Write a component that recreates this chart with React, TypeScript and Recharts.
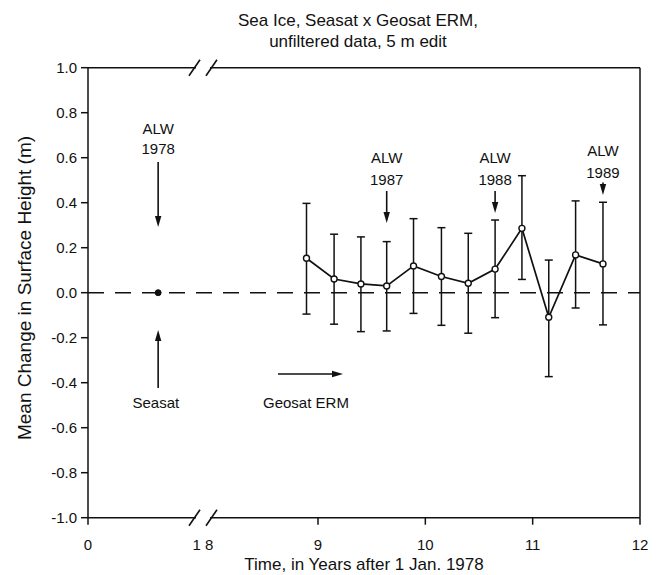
import React from 'react';
import {
  ComposedChart,
  Line,
  XAxis,
  YAxis,
  ErrorBar,
  ReferenceLine,
  ReferenceDot,
} from 'recharts';

// Geosat ERM points (years after 1 Jan 1978)
const geosatYears = [8.9, 9.15, 9.4, 9.64, 9.89, 10.15, 10.4, 10.65, 10.9, 11.15, 11.4, 11.655];
const geosatMean = [0.153, 0.061, 0.039, 0.03, 0.119, 0.072, 0.042, 0.105, 0.286, -0.109, 0.168, 0.128];
const geosatUpper = [0.397, 0.26, 0.248, 0.227, 0.329, 0.289, 0.264, 0.323, 0.52, 0.145, 0.408, 0.402];
const geosatLower = [-0.095, -0.14, -0.173, -0.17, -0.092, -0.145, -0.18, -0.111, 0.059, -0.373, -0.068, -0.143];

// Seasat reference point
const seasatYears = [0.61];
const seasatMean = [0.0];

const yTicks = [-1, -0.8, -0.6, -0.4, -0.2, 0, 0.2, 0.4, 0.6, 0.8, 1];
const yTickLabels = ['-1.0', '-0.8', '-0.6', '-0.4', '-0.2', '0.0', '0.2', '0.4', '0.6', '0.8', '1.0'];
const xTickYears = [0, 1, 9, 10, 11, 12];
const xTickLabels = ['0', '1 8', '9', '10', '11', '12'];

// years 1..8 are cut out of the time axis
const SEG = 1.0714;
const toAxis = (yr: number) => {
  if (yr <= 1) return yr * SEG;
  if (yr <= 9) return SEG + (yr - 8) * SEG;
  return 2 * SEG + (yr - 9);
};

const xTickPos = xTickYears.map(toAxis);
const xMax = toAxis(12);

const data = [
  ...seasatYears.map((yr, i) => ({ t: toAxis(yr), s: seasatMean[i] })),
  ...geosatYears.map((yr, i) => ({
    t: toAxis(yr),
    g: geosatMean[i],
    err: [geosatMean[i] - geosatLower[i], geosatUpper[i] - geosatMean[i]],
  })),
];

const font = '"Liberation Sans", Arial, Helvetica, sans-serif';
const ink = '#111';

const BottomTick = (props: any) => {
  const { x, y, payload } = props;
  const idx = xTickPos.findIndex((p) => Math.abs(p - payload.value) < 1e-6);
  const isBreak = xTickYears[idx] === 1;
  return (
    <g>
      {!isBreak && <line x1={x} x2={x} y1={y - 22} y2={y - 15} stroke={ink} strokeWidth={1.5} />}
      <text x={x} y={y} dy="0.71em" textAnchor="middle" fontSize={15} fill={ink} fontFamily={font}>
        {xTickLabels[idx]}
      </text>
    </g>
  );
};

const BreakMark = (p: any) => {
  const { cx, cy } = p;
  return (
    <g>
      <rect x={cx - 7} y={cy - 3} width={14} height={6} fill="#fff" />
      <line x1={cx - 14} y1={cy + 8} x2={cx - 3} y2={cy - 8} stroke={ink} strokeWidth={1.6} />
      <line x1={cx + 3} y1={cy + 8} x2={cx + 14} y2={cy - 8} stroke={ink} strokeWidth={1.6} />
    </g>
  );
};

const Arrow = (p: any) => {
  const { x1, y1, x2, y2 } = p;
  const dx = x2 - x1;
  const dy = y2 - y1;
  const len = Math.hypot(dx, dy) || 1;
  const ux = dx / len;
  const uy = dy / len;
  const hl = Math.min(11, len);
  const hw = 3.2;
  const bx = x2 - ux * hl;
  const by = y2 - uy * hl;
  const pts = `${x2},${y2} ${bx - uy * hw},${by + ux * hw} ${bx + uy * hw},${by - ux * hw}`;
  return (
    <g>
      <line x1={x1} y1={y1} x2={bx} y2={by} stroke={ink} strokeWidth={1.6} />
      <polygon points={pts} fill={ink} />
    </g>
  );
};

const note = (text: string, anchor: 'middle' | 'start' = 'middle') => (p: any) => (
  <text
    x={p.cx}
    y={p.cy}
    textAnchor={anchor}
    dominantBaseline="central"
    fontSize={15}
    fill={ink}
    fontFamily={font}
  >
    {text}
  </text>
);

const alwNotes = [
  { year: 0.61, label: '1978', top: 0.732, yr: 0.639, from: 0.581, to: 0.292 },
  { year: 9.64, label: '1987', top: 0.599, yr: 0.501, from: 0.452, to: 0.31 },
  { year: 10.65, label: '1988', top: 0.599, yr: 0.501, from: 0.452, to: 0.354 },
  { year: 11.655, label: '1989', top: 0.63, yr: 0.535, from: 0.49, to: 0.434 },
];

export default function App() {
  return (
    <div style={{ position: 'absolute', left: 0, top: 0, width: 658, height: 575, background: '#fff', fontFamily: font }}>
      <div
        style={{
          position: 'absolute',
          left: 0,
          top: 9.6,
          width: 716,
          textAlign: 'center',
          fontSize: 17,
          lineHeight: '21px',
          color: ink,
        }}
      >
        Sea Ice, Seasat x Geosat ERM,
        <br />
        unfiltered data, 5 m edit
      </div>
      <div
        style={{
          position: 'absolute',
          left: 25,
          top: 288,
          transform: 'translate(-50%, -50%) rotate(-90deg)',
          whiteSpace: 'nowrap',
          fontSize: 19,
          color: ink,
        }}
      >
        Mean Change in Surface Height (m)
      </div>
      <ComposedChart width={658} height={575} data={data} margin={{ top: 57.7, right: 0, bottom: 0, left: 8 }}>
        <XAxis
          dataKey="t"
          type="number"
          domain={[0, xMax]}
          ticks={xTickPos}
          interval={0}
          tick={<BottomTick />}
          tickLine={false}
          tickSize={7}
          tickMargin={15}
          height={57.3}
          axisLine={{ stroke: ink, strokeWidth: 1.5 }}
          label={{ value: 'Time, in Years after 1 Jan. 1978', position: 'insideBottom', offset: 5.5, fill: ink, fontSize: 17, fontFamily: font }}
        />
        <XAxis
          xAxisId="top"
          orientation="top"
          dataKey="t"
          type="number"
          domain={[0, xMax]}
          ticks={xTickPos.filter((_, i) => xTickYears[i] !== 1)}
          interval={0}
          tick={false}
          tickSize={7}
          height={10}
          axisLine={{ stroke: ink, strokeWidth: 1.5 }}
          tickLine={{ stroke: ink, strokeWidth: 1.5 }}
        />
        <YAxis
          type="number"
          domain={[-1, 1]}
          ticks={yTicks}
          interval={0}
          width={80}
          tickSize={7}
          tickMargin={4}
          tickFormatter={(v: number) => yTickLabels[yTicks.findIndex((t) => Math.abs(t - v) < 1e-6)]}
          tick={{ fill: ink, fontSize: 15, fontFamily: font }}
          axisLine={{ stroke: ink, strokeWidth: 1.5 }}
          tickLine={{ stroke: ink, strokeWidth: 1.5 }}
        />
        <YAxis
          yAxisId="r"
          orientation="right"
          type="number"
          domain={[-1, 1]}
          ticks={yTicks}
          interval={0}
          width={18}
          tickSize={7}
          tick={false}
          axisLine={{ stroke: ink, strokeWidth: 1.5 }}
          tickLine={{ stroke: ink, strokeWidth: 1.5 }}
        />

        <ReferenceLine y={0} stroke={ink} strokeWidth={1.5} strokeDasharray="16 11" />

        <Line
          dataKey="g"
          stroke={ink}
          strokeWidth={1.7}
          isAnimationActive={false}
          dot={{ r: 3, fill: '#fff', stroke: ink, strokeWidth: 1.4 }}
          activeDot={false}
        >
          <ErrorBar dataKey="err" width={4} stroke={ink} strokeWidth={1.5} isAnimationActive={false} />
        </Line>
        <Line
          dataKey="s"
          stroke="none"
          isAnimationActive={false}
          dot={{ r: 3, fill: ink, stroke: ink, strokeWidth: 1 }}
          activeDot={false}
        />

        {alwNotes.map((n) => (
          <ReferenceDot key={`a-${n.label}`} x={toAxis(n.year)} y={n.top} r={0} shape={note('ALW')} ifOverflow="visible" />
        ))}
        {alwNotes.map((n) => (
          <ReferenceDot key={`y-${n.label}`} x={toAxis(n.year)} y={n.yr} r={0} shape={note(n.label)} ifOverflow="visible" />
        ))}
        {alwNotes.map((n) => (
          <ReferenceLine
            key={`ar-${n.label}`}
            segment={[{ x: toAxis(n.year), y: n.from }, { x: toAxis(n.year), y: n.to }]}
            shape={Arrow}
            ifOverflow="visible"
          />
        ))}

        <ReferenceLine
          segment={[{ x: toAxis(0.61), y: -0.424 }, { x: toAxis(0.61), y: -0.166 }]}
          shape={Arrow}
          ifOverflow="visible"
        />
        <ReferenceDot x={toAxis(0.59)} y={-0.486} r={0} shape={note('Seasat')} ifOverflow="visible" />

        <ReferenceLine
          segment={[{ x: toAxis(8.652), y: -0.361 }, { x: toAxis(9.233), y: -0.361 }]}
          shape={Arrow}
          ifOverflow="visible"
        />
        <ReferenceDot x={toAxis(8.522)} y={-0.486} r={0} shape={note('Geosat ERM', 'start')} ifOverflow="visible" />

        <ReferenceDot x={toAxis(1)} y={1} r={0} shape={BreakMark} ifOverflow="visible" />
        <ReferenceDot x={toAxis(1)} y={-1} r={0} shape={BreakMark} ifOverflow="visible" />
      </ComposedChart>
    </div>
  );
}
